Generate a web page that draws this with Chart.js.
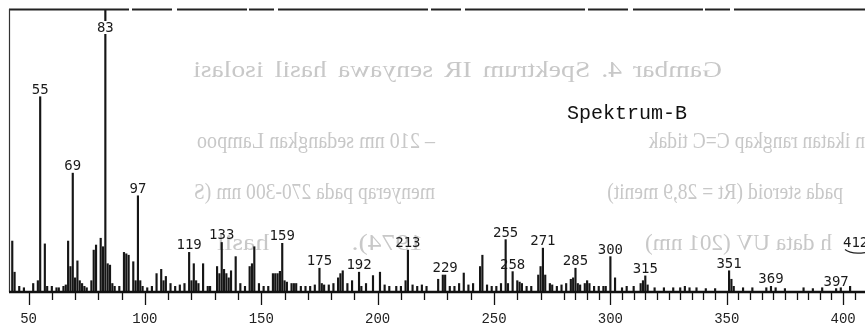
<!DOCTYPE html>
<html><head><meta charset="utf-8">
<script src="https://cdn.jsdelivr.net/npm/chart.js@4.4.1/dist/chart.umd.min.js"></script>
<style>html,body{margin:0;padding:0;background:#fff;overflow:hidden}canvas{display:block}</style>
</head><body>
<canvas id="c" width="865" height="329"></canvas>
<script>
// ---- data ----
const massToCharge = [
  43,44,46,48,52,54,55,57,58,60,
  62,63,65,66,67,68,69,70,71,72,
  73,74,75,77,78,79,81,82,83,84,
  85,86,87,89,91,92,93,95,96,97,
  98,99,101,103,105,107,108,109,111,113,
  115,117,119,120,121,122,123,125,127,128,
  131,132,133,134,135,136,137,139,141,143,
  145,146,147,149,151,153,155,156,157,158,
  159,160,161,163,164,165,167,169,171,173,
  175,176,177,179,181,183,184,185,187,189,
  192,193,195,198,201,203,205,208,210,212,
  213,215,217,219,221,226,228,229,231,233,
  235,237,239,241,244,245,247,249,251,253,
  255,256,258,260,261,262,264,266,269,270,
  271,272,274,275,277,279,281,283,284,285,
  286,287,289,290,291,293,295,297,298,300,
  302,305,307,310,313,314,315,316,319,323,
  327,330,332,334,337,341,345,351,352,353,
  357,361,367,369,371,375,383,387,391,397,
  399,403,412];
const relIntensity = [
  18,7,2,1.5,3,4,69,17,2,2,
  1.5,1.5,2,2.5,18,9,42,5,11,4,
  3,2,1.5,4,14.8,16.6,19,16,100,10,
  9.5,3,2,2,14,13.5,13,10.7,4,34,
  4,2,1.5,2,6.5,8,4,5.5,3,2,
  2.5,3,14,4,10,4,3,10,2,2,
  9,6.5,17.5,8,6.5,5,7.5,12.5,3,2,
  9,10,16,3,2,2,6.5,6.5,6.5,7.3,
  17.2,4,3.5,3,3,3,2,2,2,2.5,
  8.4,3,2.5,2.5,3,5,6.5,7.5,3,4,
  7,2,3,5.8,7,2.5,2,2,2,4,
  14.8,2.5,2,2.5,2,4.5,6,6,2,2,
  3,6.7,2.5,3,9,13,2.5,2,2,3,
  18.5,3,7.2,4,3.5,3,2,2,6,9,
  15.5,6,3,2.5,2,2.5,3,4.5,5,8.4,
  3,2.5,3,4,3,2,2,2,2,12.5,
  5,1.5,2,2,3,4,5.7,2.5,1.5,1.5,
  1.5,1.5,2,1.5,1.5,1.2,1.2,7.5,4.5,2,
  1.5,1.5,1.5,2,1.5,1.2,1.5,1.2,1.5,1.2,
  1.5,2,15];
const labeledPeaks = [55,69,83,97,119,133,159,175,192,213,229,255,258,271,285,300,315,351,369,397,412];
const axisTickLabels = [50,100,150,200,250,300,350,400];
const massRange = [41.6, 409.4];
const spectrumTitle = 'Spektrum-B';
// faint show-through text from the reverse side of the scanned page (appears mirrored)
const reverseText = ['Gambar 4. Spektrum IR senyawa hasil isolasi','n ikatan rangkap C=C tidak','– 210 nm sedangkan Lampoo','pada steroid (Rt = 28,9 menit)','menyerap pada 270-300 nm (S','h data UV (201 nm)','1974). hasil'];

// ---- layout / style (not data) ----
const reverseLayout = [[193,722,77],[663,865,148],[197,435,148],[643,843,199],[197,435,199],[645,832,250],[217,423,250]];

const points = massToCharge.map((m,i)=>({x:m, y:relIntensity[i]}));

function mirroredFit(ctx, text, x0, x1, y){
  const words = text.split(' ');
  const w = words.map(s=>ctx.measureText(s).width);
  const space = ctx.measureText(' ').width;
  const natural = w.reduce((a,b)=>a+b,0) + space*(words.length-1);
  let sx = (x1-x0)/natural;
  sx = Math.min(1.2, Math.max(0.85, sx));
  const avail = (x1-x0)/sx;
  const tot = w.reduce((a,b)=>a+b,0);
  const gap = words.length>1 ? Math.max(space,(avail-tot)/(words.length-1)) : 0;
  ctx.save();
  ctx.translate(x1,0); ctx.scale(-sx,1);
  let x = 0;
  words.forEach((s,i)=>{ctx.fillText(s,x,y); x += w[i]+gap;});
  ctx.restore();
}

const pagePlugin = {
  id:'page',
  beforeDatasetsDraw(chart){
    const ctx = chart.ctx;
    ctx.save();
    ctx.font = '23px "Liberation Serif"';
    ctx.fillStyle = '#c8c8c8';
    ctx.textBaseline = 'alphabetic';
    reverseText.forEach((t,i)=>{const L=reverseLayout[i]; mirroredFit(ctx,t,L[0],L[1],L[2]);});
    ctx.restore();
  },
  afterDatasetsDraw(chart){
    const ctx = chart.ctx, ca = chart.chartArea, xs = chart.scales.x;
    ctx.save();
    ctx.strokeStyle = '#222';
    ctx.lineWidth = 1.8;
    ctx.setLineDash([120,3,40,5,70,2,25,4,150,3,30,4]);
    ctx.beginPath(); ctx.moveTo(ca.left, ca.top+0.5); ctx.lineTo(ca.right, ca.top+0.5); ctx.stroke();
    ctx.setLineDash([]);
    ctx.lineWidth = 1.2; ctx.strokeStyle = '#333';
    ctx.beginPath(); ctx.moveTo(ca.left+0.5, ca.top); ctx.lineTo(ca.left+0.5, ca.bottom); ctx.stroke();
    ctx.lineWidth = 2.4; ctx.strokeStyle = '#111';
    ctx.beginPath(); ctx.moveTo(ca.left, ca.bottom); ctx.lineTo(ca.right, ca.bottom); ctx.stroke();
    ctx.lineWidth = 1.3;
    for (let v = 50; v <= xs.max; v += (v < 280 ? 10 : 5)) {
      const px = Math.round(xs.getPixelForValue(v)) + 0.5;
      const len = (v % 50 === 0) ? 13 : 8;
      ctx.beginPath(); ctx.moveTo(px, ca.bottom); ctx.lineTo(px, ca.bottom+len); ctx.stroke();
    }
    ctx.restore();
  },
  afterDraw(chart){
    const ctx = chart.ctx, ca = chart.chartArea, xs = chart.scales.x, ys = chart.scales.y;
    ctx.save();
    ctx.font = '14px "DejaVu Sans Mono"';
    ctx.fillStyle = '#1a1a1a';
    ctx.textAlign = 'center';
    ctx.textBaseline = 'alphabetic';
    labeledPeaks.forEach(m=>{
      const i = massToCharge.indexOf(m);
      const px = xs.getPixelForValue(m), py = ys.getPixelForValue(relIntensity[i]);
      const t = String(m);
      if (py < ca.top + 4) {
        const w = ctx.measureText(t).width;
        ctx.fillStyle = '#fff'; ctx.fillRect(px - w/2 - 1, ca.top + 12, w + 2, 13);
        ctx.fillStyle = '#1a1a1a'; ctx.fillText(t, px, ca.top + 23);
      } else if (px > ca.right) {
        ctx.textAlign = 'left';
        ctx.fillText(t, ca.right - 22, py - 3);
        ctx.textAlign = 'center';
        ctx.strokeStyle = '#222'; ctx.lineWidth = 1.2;
        ctx.beginPath(); ctx.moveTo(ca.right - 20, py); ctx.quadraticCurveTo(ca.right - 14, py + 5, ca.right, py + 3); ctx.stroke();
      } else {
        ctx.fillText(t, px, py - 3);
      }
    });
    ctx.font = '20px "Liberation Mono"';
    ctx.textAlign = 'left';
    ctx.fillStyle = '#111';
    ctx.fillText(spectrumTitle, 567, 119);
    ctx.restore();
  }
};

new Chart(document.getElementById('c'), {
  type: 'bar',
  data: { datasets: [{ data: points, backgroundColor: '#161616', borderWidth: 0, barThickness: 1.5, grouped: false }] },
  options: {
    responsive: false, animation: false, devicePixelRatio: 1,
    layout: { padding: { left: 9, top: 9, right: 0, bottom: 0 } },
    plugins: { legend: { display: false }, tooltip: { enabled: false } },
    scales: {
      x: {
        type: 'linear', min: massRange[0], max: massRange[1], offset: false,
        grid: { display: false, drawTicks: true, tickLength: 18 },
        border: { display: false },
        afterFit: s => { s.height = 37; },
        afterBuildTicks: s => { s.ticks = axisTickLabels.map(v => ({ value: v })); },
        ticks: { padding: 1, color: '#222', font: { family: 'Liberation Mono', size: 14 }, maxRotation: 0, autoSkip: false,
                 callback: v => String(v) }
      },
      y: { min: 0, max: 100, display: false }
    }
  },
  plugins: [pagePlugin]
});
</script>
</body></html>
